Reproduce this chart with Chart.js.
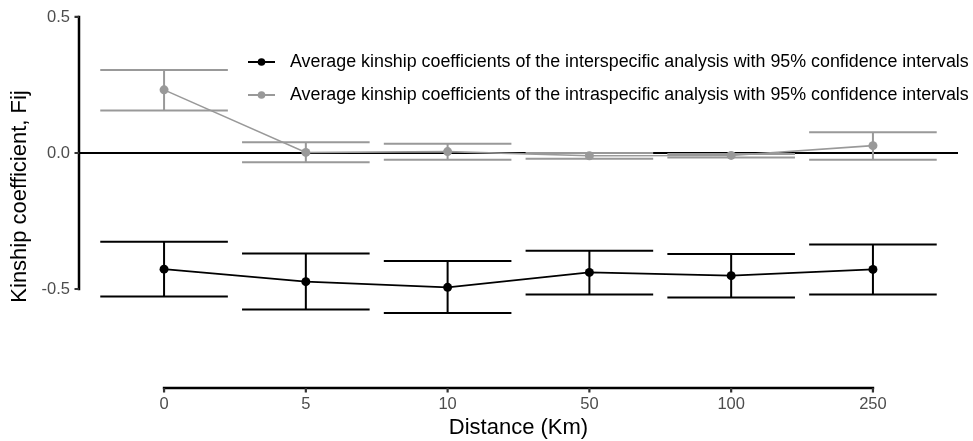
<!DOCTYPE html>
<html><head><meta charset="utf-8">
<script src="https://cdn.jsdelivr.net/npm/chart.js@4.4.1/dist/chart.umd.min.js"></script>
<style>html,body{margin:0;padding:0;background:#fff}</style>
</head><body>
<canvas id="c" width="973" height="441"></canvas>
<script>
// ---- data ----
const distances = ['0', '5', '10', '50', '100', '250'];
const interMean  = [-0.427, -0.473, -0.494, -0.439, -0.451, -0.428];
const interLower = [-0.528, -0.575, -0.588, -0.520, -0.531, -0.520];
const interUpper = [-0.326, -0.370, -0.397, -0.359, -0.371, -0.336];
const intraMean  = [0.232, 0.002, 0.005, -0.010, -0.009, 0.027];
const intraLower = [0.156, -0.034, -0.025, -0.021, -0.017, -0.025];
const intraUpper = [0.305, 0.039, 0.034, 0.000, -0.004, 0.076];
const yTickValues = [-0.5, 0, 0.5];
const yTickLabels = ['-0.5', '0.0', '0.5'];
const seriesLabels = [
  'Average kinship coefficients of the interspecific analysis with 95% confidence intervals',
  'Average kinship coefficients of the intraspecific analysis with 95% confidence intervals'
];
const BLACK = '#000000';
const GREY = '#999999';
const FONT = "'Liberation Sans', Arial, Helvetica, sans-serif";

const toPts = arr => arr.map((v, i) => ({x: i, y: v}));

const errorBars = [
  {lower: interLower, upper: interUpper, color: BLACK},
  {lower: intraLower, upper: intraUpper, color: GREY}
];

const ggPlugin = {
  id: 'gg',
  beforeDatasetsDraw(chart) {
    const {ctx, chartArea: a, scales: {x, y}} = chart;
    ctx.save();
    // horizontal reference line at 0
    ctx.strokeStyle = '#000';
    ctx.lineWidth = 1.8;
    ctx.beginPath();
    ctx.moveTo(a.left, y.getPixelForValue(0));
    ctx.lineTo(a.right, y.getPixelForValue(0));
    ctx.stroke();
    // error bars
    errorBars.forEach(eb => {
      ctx.strokeStyle = eb.color;
      ctx.lineWidth = 2;
      ctx.lineCap = 'butt';
      eb.lower.forEach((lo, i) => {
        const hi = eb.upper[i];
        const xc = x.getPixelForValue(i);
        const xl = x.getPixelForValue(i - 0.45);
        const xr = x.getPixelForValue(i + 0.45);
        const yl = y.getPixelForValue(lo);
        const yh = y.getPixelForValue(hi);
        ctx.beginPath();
        ctx.moveTo(xl, yh); ctx.lineTo(xr, yh);
        ctx.moveTo(xl, yl); ctx.lineTo(xr, yl);
        ctx.moveTo(xc, yh); ctx.lineTo(xc, yl);
        ctx.stroke();
      });
    });
    ctx.restore();
  },
  afterDraw(chart) {
    const {ctx, chartArea: a, scales: {x, y}} = chart;
    ctx.save();
    // capped axis lines
    ctx.strokeStyle = '#000';
    ctx.lineWidth = 2.5;
    ctx.lineCap = 'square';
    ctx.beginPath();
    ctx.moveTo(a.left, y.getPixelForValue(yTickValues[yTickValues.length - 1]));
    ctx.lineTo(a.left, y.getPixelForValue(yTickValues[0]));
    ctx.moveTo(x.getPixelForValue(0), a.bottom);
    ctx.lineTo(x.getPixelForValue(distances.length - 1), a.bottom);
    ctx.stroke();
    ctx.strokeStyle = '#333';
    ctx.lineWidth = 2.2;
    ctx.lineCap = 'butt';
    ctx.beginPath();
    yTickValues.forEach(v => {
      const py = y.getPixelForValue(v);
      ctx.moveTo(a.left - 4.5, py); ctx.lineTo(a.left, py);
    });
    distances.forEach((d, i) => {
      const px = x.getPixelForValue(i);
      ctx.moveTo(px, a.bottom); ctx.lineTo(px, a.bottom + 4.5);
    });
    ctx.stroke();
    // legend
    const ds = chart.data.datasets;
    ds.forEach((d, i) => {
      const ly = a.top + 57 + i * 33;
      const lx = a.left + 169;
      ctx.strokeStyle = d.borderColor;
      ctx.lineWidth = 2;
      ctx.beginPath();
      ctx.moveTo(lx, ly); ctx.lineTo(lx + 27, ly);
      ctx.stroke();
      ctx.fillStyle = d.backgroundColor;
      ctx.beginPath();
      ctx.arc(lx + 13.5, ly, 3.8, 0, Math.PI * 2);
      ctx.fill();
      ctx.fillStyle = '#000';
      ctx.font = '17.85px ' + FONT;
      ctx.textBaseline = 'middle';
      ctx.textAlign = 'left';
      ctx.fillText(d.label, lx + 42, ly);
    });
    ctx.restore();
  }
};

new Chart(document.getElementById('c'), {
  type: 'line',
  data: {
    datasets: [
      {label: seriesLabels[0], data: toPts(interMean), borderColor: BLACK, backgroundColor: BLACK,
       borderWidth: 1.6, pointRadius: 4.5, pointHoverRadius: 4.5, pointBorderWidth: 0, tension: 0},
      {label: seriesLabels[1], data: toPts(intraMean), borderColor: GREY, backgroundColor: GREY,
       borderWidth: 1.6, pointRadius: 4.5, pointHoverRadius: 4.5, pointBorderWidth: 0, tension: 0}
    ]
  },
  options: {
    responsive: false,
    animation: false,
    devicePixelRatio: 1,
    layout: {padding: {top: 5, right: 15, left: 0, bottom: 0}},
    plugins: {legend: {display: false}, tooltip: {enabled: false}},
    scales: {
      x: {
        type: 'linear', min: -0.6, max: 5.6,
        grid: {display: false, drawTicks: false}, border: {display: false},
        afterBuildTicks: s => { s.ticks = distances.map((d, i) => ({value: i})); },
        afterFit: s => { s.height = 53; s.paddingLeft = 0; s.paddingRight = 0; },
        ticks: {padding: 7, color: '#4d4d4d', font: {family: FONT, size: 16.5},
                callback: v => distances[v]},
        title: {display: true, text: 'Distance (Km)', color: '#000',
                font: {family: FONT, size: 22}, padding: {top: 0, bottom: 0}}
      },
      y: {
        type: 'linear', min: -0.864, max: 0.544,
        grid: {display: false, drawTicks: false}, border: {display: false},
        afterBuildTicks: s => { s.ticks = yTickValues.map(v => ({value: v})); },
        afterFit: s => { s.width = 79; s.paddingTop = 0; s.paddingBottom = 0; },
        ticks: {padding: 9, color: '#4d4d4d', font: {family: FONT, size: 16.5},
                callback: v => yTickLabels[yTickValues.indexOf(v)]},
        title: {display: true, text: 'Kinship coefficient, Fij', color: '#000',
                font: {family: FONT, size: 22}, padding: {top: 7, bottom: 0}}
      }
    }
  },
  plugins: [ggPlugin]
});
</script>
</body></html>
